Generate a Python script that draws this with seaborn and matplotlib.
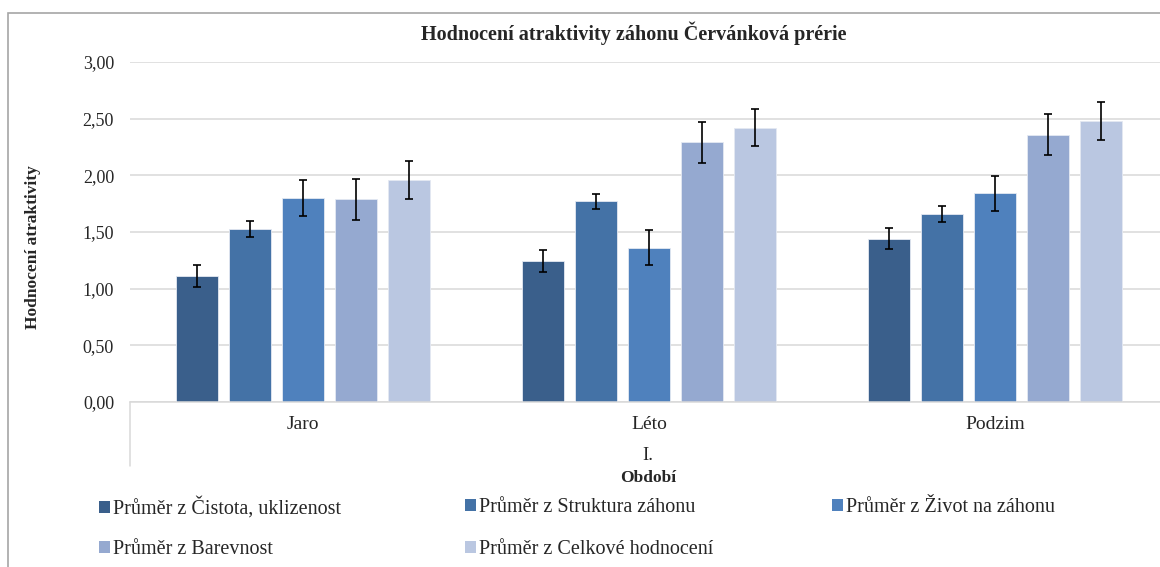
import pandas as pd
import seaborn as sns
import matplotlib.pyplot as plt
from matplotlib.patches import Rectangle, Patch
from matplotlib.lines import Line2D
from matplotlib.ticker import FuncFormatter


# =========================
# 1. DATA
# =========================
periods = ["Jaro", "Léto", "Podzim"]
series = [
    "Průměr z Čistota, uklizenost",
    "Průměr z Struktura záhonu",
    "Průměr z Život na záhonu",
    "Průměr z Barevnost",
    "Průměr z Celkové hodnocení",
]
cistota = [1.11, 1.24, 1.44]
struktura = [1.53, 1.77, 1.66]
zivot = [1.80, 1.36, 1.84]
barevnost = [1.79, 2.29, 2.36]
celkove = [1.96, 2.42, 2.48]

err_cistota = [0.095, 0.097, 0.093]
err_struktura = [0.070, 0.067, 0.070]
err_zivot = [0.155, 0.155, 0.155]
err_barevnost = [0.180, 0.180, 0.180]
err_celkove = [0.165, 0.165, 0.165]

colors = ["#3A5F8B", "#4472A6", "#4F81BD", "#95A9D0", "#BAC7E1"]

title = "Hodnocení atraktivity záhonu Červánková prérie"
ylabel = "Hodnocení atraktivity"
xlabel = "Období"
outer_label = "I."

values = [cistota, struktura, zivot, barevnost, celkove]
errors = [err_cistota, err_struktura, err_zivot, err_barevnost, err_celkove]

rows = []
for s, vals in zip(series, values):
    for p, v in zip(periods, vals):
        rows.append({"period": p, "series": s, "value": v})
df = pd.DataFrame(rows)

# =========================
# 2. STYLE
# =========================
sns.set_style("white")
plt.rcParams["font.family"] = ["Liberation Serif", "DejaVu Serif"]
grid_col = "#D9D9D9"

W, H = 1160, 567
fig = plt.figure(figsize=(W / 100, H / 100), dpi=100)

# outer chart border (cropped on right / bottom)
fig.patches.append(Rectangle((7.5 / W, -0.1), 1.2, (H - 12.5) / H + 0.1,
                             transform=fig.transFigure, fill=False,
                             edgecolor="#A6A6A6", linewidth=1.2))

ax = fig.add_axes([130 / W, 165 / H, 1038 / W, 340 / H])

# =========================
# 3. BARS
# =========================
sns.barplot(data=df, x="period", y="value", hue="series", order=periods,
            hue_order=series, palette=colors, saturation=1, width=0.765,
            gap=0.2, errorbar=None, edgecolor="#E4E9F2", linewidth=0.6,
            ax=ax, legend=False, zorder=2)

for cont, errs in zip(ax.containers, errors):
    xs = [b.get_x() + b.get_width() / 2 for b in cont]
    ys = [b.get_height() for b in cont]
    ax.errorbar(xs, ys, yerr=errs, fmt="none", ecolor="black",
                elinewidth=1.2, capsize=3, capthick=1.2, zorder=3)

# =========================
# 4. AXES
# =========================
ax.set_ylim(0, 3)
ax.set_xlim(-0.5, 2.5)
ax.set_yticks([0, 0.5, 1, 1.5, 2, 2.5, 3])
ax.yaxis.set_major_formatter(FuncFormatter(lambda v, _: f"{v:.2f}".replace(".", ",")))
ax.yaxis.grid(True, color=grid_col, linewidth=1.1, zorder=0)
ax.set_axisbelow(True)
for side in ["left", "right", "top"]:
    ax.spines[side].set_visible(False)
ax.spines["bottom"].set_color(grid_col)
ax.spines["bottom"].set_linewidth(1.1)
ax.tick_params(axis="y", length=0, pad=11.5, labelsize=13)
ax.tick_params(axis="x", length=0, pad=10, labelsize=14)
ax.set_xlabel("")
ax.set_ylabel("")

# multi-level category axis: left boundary + outer label
ax.add_line(Line2D([0, 0], [0, -64 / 340], transform=ax.transAxes,
                   color=grid_col, linewidth=1.1, clip_on=False))
fig.text(648 / W, 1 - 455 / H, outer_label, ha="center", va="center", fontsize=13.5)
fig.text(648 / W, 1 - 478 / H, xlabel, ha="center", va="center",
         fontsize=12.5, fontweight="bold")

fig.text(33 / W, 1 - 247 / H, ylabel, rotation=90, ha="center", va="center",
         fontsize=12.5, fontweight="bold")
fig.text(634 / W, 1 - 33 / H, title, ha="center", va="center",
         fontsize=14.5, fontweight="bold")

# =========================
# 5. LEGEND (3 columns x 2 rows)
# =========================
leg_x = [99, 465, 832, 99, 465]
leg_y = [508, 508, 508, 550, 550]
for s, c, x0, y0 in zip(series, colors, leg_x, leg_y):
    fig.legend([Patch(facecolor=c, edgecolor="none")], [s],
               loc="center left", bbox_to_anchor=(x0 / W, 1 - y0 / H),
               frameon=False, fontsize=14.5, handlelength=0.55,
               handleheight=0.55, handletextpad=0.15,
               borderaxespad=0, borderpad=0)

fig.savefig("out.png", dpi=100)
